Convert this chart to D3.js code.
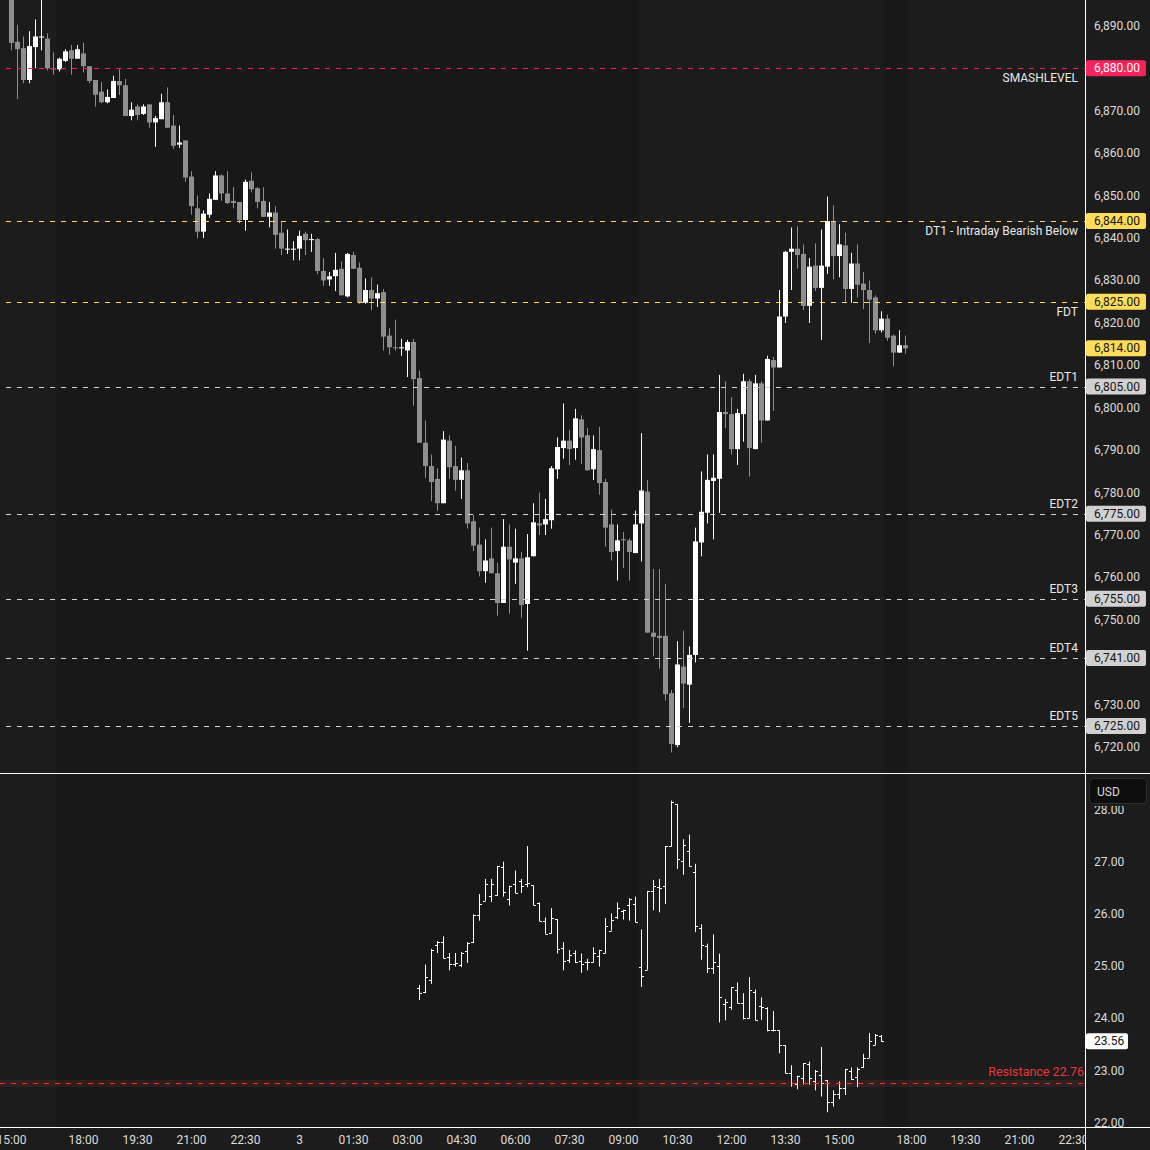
<!DOCTYPE html>
<html>
<head>
<meta charset="utf-8">
<script src="https://cdn.jsdelivr.net/npm/d3@7"></script>
<style>
  body { margin: 0; background: #1c1c1c; }
  svg text { font-family: Roboto, "Liberation Sans", sans-serif; }
</style>
</head>
<body>
<svg id="chart" width="1150" height="1150"></svg>
<script>
// ES 10-minute bars, slot 0 = 15:00 on day 1
const esOpen = [6897,6886.25,6884.75,6877.25,6885,6887.25,6887,6880,6879.75,6881.75,6884.25,6882.25,6883.5,6880.5,6877.25,6874.5,6872,6873,6877,6876,6868.75,6871,6869.25,6871.5,6867.25,6868,6872,6866.5,6862,6863,6854.5,6847,6841.5,6845.5,6849,6854.75,6850.5,6848.75,6848.5,6844.25,6853.5,6851.75,6848.75,6845,6846,6841.25,6837.25,6837.25,6837.5,6841,6839.5,6839.75,6832.25,6830.25,6831,6832.75,6826.25,6836,6833,6824.75,6827.75,6825.75,6827.25,6817,6814.25,6814,6813.5,6815.5,6807,6791.75,6786.25,6783.25,6777.5,6792.25,6786.25,6783,6785.25,6773.25,6767.75,6761.5,6764.5,6761,6754,6767.25,6763.5,6764.5,6753.75,6765,6772.75,6772.5,6773.5,6785.5,6790.5,6792.25,6790.5,6797.25,6793.5,6785.5,6790,6782.5,6772.5,6766.25,6769,6768.75,6765.75,6772.75,6780.25,6747,6746.25,6746.25,6732.75,6720.5,6739,6734.75,6741.75,6768.25,6775.25,6782.75,6783.25,6799,6798.5,6790.25,6798.5,6806.25,6790.25,6805.75,6797,6811.25,6809.5,6821.5,6836.75,6837.5,6836.25,6824,6833.5,6828.25,6833.25,6844,6835.75,6838.25,6828,6834,6829.25,6827.75,6826,6818.25,6821,6817,6813,6814.75];
const esHigh = [6899,6890.25,6887.5,6888.75,6891.5,6897,6888.25,6883.75,6882.5,6884.5,6885.5,6885.5,6886,6880.5,6877.25,6876.75,6875,6878.25,6879.75,6877.5,6872,6871.5,6871.5,6871.5,6868.75,6874,6875.5,6869,6866.5,6863,6855.75,6850,6846.5,6850.5,6855.75,6855,6855.75,6852,6848.5,6853.75,6855.5,6852,6852,6848.5,6847.5,6844,6842,6839.25,6841.75,6841.5,6841,6840,6835.25,6832,6836.5,6834.5,6836.5,6836.75,6834.25,6830.5,6830.75,6829,6828,6818.75,6820.75,6816.25,6816,6816.25,6808.75,6797,6789,6785.75,6794.5,6793.5,6791,6788.25,6787,6774.75,6771.75,6769,6771.75,6763.5,6773.75,6772.5,6771.5,6766,6770.25,6777.5,6780,6778.5,6786.25,6793,6801,6794.75,6799.75,6798.25,6795.25,6793.5,6795.5,6783.25,6776,6772.5,6770.75,6769.25,6775.75,6794,6783,6762,6762,6758.5,6733.5,6745,6747.5,6743.75,6771.75,6785,6789,6789,6807.75,6806.25,6802.5,6799.75,6808,6806.75,6807.75,6806.25,6812.25,6812,6827.75,6837,6842.5,6842.75,6838.5,6835.25,6838.75,6842,6849.75,6847.75,6843.25,6841.25,6836.5,6838.5,6832,6830,6826.5,6822.75,6822,6817.25,6818.25,6817];
const esLow = [6884.25,6872.75,6876.5,6876.5,6880,6884.25,6879.5,6878.5,6879.25,6881.5,6878.5,6882.25,6879,6876.5,6871,6871.75,6871.75,6873,6873.75,6868.75,6867.75,6867.75,6869,6866,6861.5,6868,6866,6861,6861.25,6853.25,6845.5,6840,6840,6844.75,6849,6848.75,6848,6847,6843.5,6841.75,6850.75,6847,6845,6842.5,6837.5,6836,6836.25,6834.75,6834.75,6836,6836.75,6831.5,6828.75,6828.75,6827.5,6826.5,6826,6832.75,6824.5,6824.5,6823,6823.75,6813.5,6812.5,6813.5,6812.25,6807.25,6800.5,6791.75,6783.5,6778,6775.75,6777.5,6783.25,6780.5,6778.5,6771.5,6766.25,6760.25,6758.75,6761,6751,6754,6751.5,6758.5,6750.5,6742.75,6765,6770,6770,6771.5,6783.25,6788,6786.5,6787.75,6786.75,6785.25,6783,6779.5,6767.25,6764,6759.25,6762.25,6759.25,6765.75,6763.75,6747,6741.5,6738.5,6731,6718.75,6720,6729.25,6725.75,6740,6765,6772.75,6769,6775.25,6795.25,6789,6786.5,6792,6783.75,6790.25,6791.75,6797,6799.25,6809.5,6820,6827.75,6832.75,6823,6820,6827.5,6816,6831.5,6830.25,6830.75,6825,6824.75,6826,6823.25,6815.25,6817.5,6817.75,6815.75,6809.75,6813,6812.75];
const esClose = [6886,6884.5,6877.25,6885.25,6887.5,6887.5,6880,6879.75,6882.25,6884,6882.25,6884.5,6880.5,6877,6873.75,6872,6873.25,6877,6876,6868.75,6870.25,6869,6871,6867.25,6868.25,6872,6866,6861.75,6862.5,6854.25,6847.5,6841.5,6845.75,6849.25,6854.75,6850.5,6848.25,6848.25,6844.25,6853.25,6851.5,6848.5,6845,6846,6840.75,6837.5,6837.5,6837.5,6840.5,6839.5,6839.75,6832.25,6830,6831,6832.5,6826.5,6836.25,6832.75,6824.75,6827.75,6825.75,6827,6816.75,6814.25,6814,6814.25,6815.5,6806.75,6791.75,6786.25,6782.5,6777.5,6792.5,6786,6783,6785.25,6772.75,6767.5,6761.5,6764,6761,6754,6767.25,6764.25,6764.5,6753.5,6764.75,6773,6772.25,6773.75,6785.75,6790.75,6792.25,6790.25,6797.5,6793,6785.25,6790.25,6782.25,6771.75,6766,6768.75,6768.75,6766,6772.5,6780.5,6747,6746,6745.75,6732.5,6720.75,6739.5,6735,6741.75,6768.5,6775.5,6783,6783.5,6799,6798.5,6790.25,6798.75,6806.25,6790.5,6805.75,6797,6811.5,6809.5,6821.5,6836.75,6837.5,6836,6824,6833.25,6828.25,6833.5,6844,6835.75,6838.5,6828,6834,6829,6827.75,6825.5,6818.25,6821,6816.5,6813,6814.75,6814];

// VIX 10-minute bars, starting at slot 68
const vixStart = 68;
const vixOpen = [24.58,24.50,24.74,25.41,25.46,25.18,25.04,25.02,25.28,25.46,25.98,26.25,26.35,26.37,26.90,26.29,26.57,26.63,26.58,26.55,26.20,25.86,25.63,25.90,25.34,25.12,25.25,25.09,25.07,25.07,25.20,25.25,25.68,25.95,26.05,26.17,26.19,24.98,24.93,26.44,26.51,26.54,27.30,28.10,27.02,27.21,26.80,25.73,25.39,24.96,25.01,24.28,24.21,24.55,24.29,24.00,24.50,24.24,24.20,23.77,23.77,23.48,22.95,22.75,22.86,23.13,22.79,22.92,22.82,22.39,22.55,22.66,23.00,22.87,23.06,23.24,23.49,23.67];
const vixHigh = [24.64,25.03,25.33,25.48,25.57,25.25,25.25,25.27,25.46,25.99,26.38,26.67,26.67,26.92,27.00,26.54,26.83,26.67,27.30,26.55,26.22,25.93,26.11,25.90,25.46,25.31,25.30,25.24,25.14,25.36,25.31,25.92,26.01,26.22,26.08,26.30,26.33,25.70,26.44,26.65,26.67,27.30,28.17,28.10,27.43,27.52,26.96,25.80,25.43,25.61,25.24,24.37,24.60,24.69,24.48,24.79,24.55,24.40,24.21,24.14,23.77,23.48,23.10,22.90,23.14,23.17,23.01,23.45,22.82,22.62,22.79,23.03,23.06,23.06,23.32,23.72,23.70,23.68];
const vixLow = [24.35,24.48,24.66,25.25,25.15,24.92,24.99,24.98,25.06,25.44,25.87,26.25,26.23,26.35,26.33,26.16,26.40,26.40,26.51,26.17,25.86,25.62,25.62,25.24,24.92,25.06,25.06,24.87,24.92,25.07,24.99,25.25,25.68,25.90,25.89,25.87,25.84,24.60,24.93,26.07,26.03,26.19,27.29,26.86,26.75,26.91,25.65,25.12,24.87,24.85,23.92,23.96,24.16,24.29,23.98,24.00,23.96,23.97,23.75,23.75,23.33,22.95,22.69,22.64,22.73,22.73,22.62,22.50,22.20,22.31,22.45,22.53,22.82,22.68,23.05,23.24,23.49,23.55];
const vixClose = [24.48,24.79,25.31,25.47,25.15,25.04,25.06,25.26,25.45,25.98,26.19,26.57,26.57,26.91,26.42,26.53,26.40,26.54,26.60,26.17,25.86,25.62,25.92,25.33,25.09,25.22,25.07,25.04,25.08,25.26,25.30,25.76,25.89,26.11,26.07,26.28,25.84,24.81,26.43,26.53,26.49,27.30,28.15,27.05,27.32,26.92,25.76,25.40,24.96,25.07,24.41,24.32,24.60,24.29,24.00,24.55,23.97,24.21,23.77,23.77,23.48,22.95,22.76,22.89,23.14,22.85,23.00,22.76,22.39,22.55,22.66,23.03,22.84,23.03,23.24,23.56,23.68,23.56];

// horizontal levels on the ES pane
const levelPrices = [6880, 6844, 6825, 6805, 6775, 6755, 6741, 6725];
const levelNames = ["SMASHLEVEL", "DT1 - Intraday Bearish Below", "FDT", "EDT1", "EDT2", "EDT3", "EDT4", "EDT5"];
const levelKinds = ["smash", "dt", "dt", "edt", "edt", "edt", "edt", "edt"];

// VIX pane level
const vixLevelName = "Resistance";
const vixLevel = 22.76;

const priceTicks = d3.range(6720, 6891, 10);
const vixTicks = [22, 23, 24, 25, 26, 27, 28];

// time axis: slot index of each label
const timeTickSlots = [0, 12, 21, 30, 39, 48, 57, 66, 75, 84, 93, 102, 111, 120, 129, 138, 150, 159, 168, 177];
const timeTickLabels = ["15:00", "18:00", "19:30", "21:00", "22:30", "3", "01:30", "03:00", "04:30", "06:00", "07:30", "09:00", "10:30", "12:00", "13:30", "15:00", "18:00", "19:30", "21:00", "22:30"];

// extended-hours shading, in slot units
const ethFrom = [7.5, 145.5];
const ethTo = [104.5, 149.5];

const axisX = 1085.5, sepY = 773.5, baseY = 1127.5;
const kindColor = { smash: "#f7245c", dt: "#fcdc5a", edt: "#d4d4d4" };
const fmtPrice = d3.format(",.2f"), fmtVix = d3.format(".2f");

const x = d3.scaleLinear().domain([0, 1]).range([11.5, 17.5]);
const y = d3.scaleLinear().domain([6725, 6880]).range([726, 68.3]);
const yv = d3.scaleLinear().domain([22, 27]).range([1122.7, 861.7]);

const svg = d3.select("#chart");
const defs = svg.append("defs");
defs.append("clipPath").attr("id", "clip-top")
  .append("rect").attr("width", axisX - 0.5).attr("height", sepY - 0.5);
defs.append("clipPath").attr("id", "clip-bot")
  .append("rect").attr("y", sepY + 0.5).attr("width", axisX - 0.5).attr("height", baseY - sepY - 1);
defs.append("clipPath").attr("id", "clip-xaxis")
  .append("rect").attr("y", baseY).attr("width", axisX - 0.5).attr("height", 30);
defs.append("clipPath").attr("id", "clip-vixaxis")
  .append("rect").attr("x", axisX).attr("y", 806).attr("width", 80).attr("height", 330);

svg.append("rect").attr("width", 1150).attr("height", 1150).attr("fill", "#1c1c1c");

// session shading
svg.append("g").selectAll("rect")
  .data(d3.range(ethFrom.length))
  .join("rect")
    .attr("x", i => x(ethFrom[i]))
    .attr("width", i => x(ethTo[i]) - x(ethFrom[i]))
    .attr("y", 0)
    .attr("height", baseY)
    .attr("fill", "#181818");

// ES candles
const topPane = svg.append("g").attr("clip-path", "url(#clip-top)");
const bars = d3.range(esOpen.length);
const candleColor = i => esClose[i] >= esOpen[i] ? "#ffffff" : "#8f8f8f";

topPane.append("g").selectAll("rect")
  .data(bars)
  .join("rect")
    .attr("x", i => x(i) - 0.5)
    .attr("width", 1)
    .attr("y", i => y(esHigh[i]))
    .attr("height", i => y(esLow[i]) - y(esHigh[i]))
    .attr("fill", candleColor);

topPane.append("g").selectAll("rect")
  .data(bars)
  .join("rect")
    .attr("x", i => x(i) - 2.5)
    .attr("width", 5)
    .attr("y", i => y(Math.max(esOpen[i], esClose[i])))
    .attr("height", i => Math.max(1, Math.abs(y(esOpen[i]) - y(esClose[i]))))
    .attr("fill", candleColor);

// level lines + labels
const lv = d3.range(levelPrices.length);
topPane.append("g").selectAll("line")
  .data(lv)
  .join("line")
    .attr("x1", 6).attr("x2", axisX)
    .attr("y1", i => Math.round(y(levelPrices[i])) + 0.5)
    .attr("y2", i => Math.round(y(levelPrices[i])) + 0.5)
    .attr("stroke", i => kindColor[levelKinds[i]])
    .attr("stroke-width", 1)
    .attr("stroke-dasharray", "5,6");

topPane.append("g").selectAll("text")
  .data(lv)
  .join("text")
    .attr("x", 1078)
    .attr("y", i => y(levelPrices[i]) + (levelKinds[i] === "edt" ? -10 : 10))
    .attr("text-anchor", "end")
    .attr("dominant-baseline", "central")
    .attr("font-size", 12)
    .attr("fill", "#e8e8e8")
    .text(i => levelNames[i]);

// VIX OHLC bars
const botPane = svg.append("g").attr("clip-path", "url(#clip-bot)");
const vb = d3.range(vixOpen.length);
const vg = botPane.append("g").attr("stroke", "#ffffff").attr("stroke-width", 1);
vg.selectAll("line.hl")
  .data(vb)
  .join("line").attr("class", "hl")
    .attr("x1", i => x(vixStart + i)).attr("x2", i => x(vixStart + i))
    .attr("y1", i => yv(vixHigh[i])).attr("y2", i => yv(vixLow[i]));
vg.selectAll("line.op")
  .data(vb)
  .join("line").attr("class", "op")
    .attr("x1", i => x(vixStart + i) - 2.5).attr("x2", i => x(vixStart + i))
    .attr("y1", i => Math.round(yv(vixOpen[i])) + 0.5).attr("y2", i => Math.round(yv(vixOpen[i])) + 0.5);
vg.selectAll("line.cl")
  .data(vb)
  .join("line").attr("class", "cl")
    .attr("x1", i => x(vixStart + i)).attr("x2", i => x(vixStart + i) + 2.5)
    .attr("y1", i => Math.round(yv(vixClose[i])) + 0.5).attr("y2", i => Math.round(yv(vixClose[i])) + 0.5);

// resistance level
const ry = Math.round(yv(vixLevel)) + 0.5;
botPane.append("rect").attr("x", 0).attr("width", axisX).attr("y", ry - 3.5).attr("height", 7)
  .attr("fill", "#e03a3a").attr("fill-opacity", 0.13);
botPane.append("line").attr("x1", 0).attr("x2", axisX).attr("y1", ry).attr("y2", ry)
  .attr("stroke", "#e03a3a").attr("stroke-dasharray", "5,6");
botPane.append("text")
  .attr("x", 1084).attr("y", ry - 12)
  .attr("text-anchor", "end").attr("dominant-baseline", "central")
  .attr("font-size", 12.5).attr("fill", "#e8393a")
  .text(`${vixLevelName} ${fmtVix(vixLevel)}`);

// frame lines
svg.append("line").attr("x1", axisX).attr("x2", axisX).attr("y1", 0).attr("y2", 1150).attr("stroke", "#ffffff");
svg.append("line").attr("x1", 0).attr("x2", 1150).attr("y1", sepY).attr("y2", sepY).attr("stroke", "#ffffff");
svg.append("line").attr("x1", 0).attr("x2", 1150).attr("y1", baseY).attr("y2", baseY).attr("stroke", "#ffffff");

// price axis: badges for levels and last price, ticks hidden where a badge sits
const badgePrices = levelPrices.concat([esClose[esClose.length - 1]]);
const badgeKinds = levelKinds.concat(["dt"]);
const freeTicks = priceTicks.filter(t => badgePrices.every(b => Math.abs(y(t) - y(b)) > 10));

const pa = svg.append("g").attr("font-size", 12);
pa.selectAll("text")
  .data(freeTicks)
  .join("text")
    .attr("x", 1094).attr("y", d => y(d))
    .attr("dominant-baseline", "central")
    .attr("fill", "#dcdcdc")
    .text(d => fmtPrice(d));

const badges = pa.append("g").selectAll("g")
  .data(d3.range(badgePrices.length))
  .join("g");
badges.append("rect")
  .attr("x", 1086).attr("width", 60)
  .attr("y", i => y(badgePrices[i]) - 8).attr("height", 16)
  .attr("rx", 2)
  .attr("fill", i => badgeKinds[i] === "edt" ? "#d1d1d1" : kindColor[badgeKinds[i]]);
badges.append("text")
  .attr("x", 1094).attr("y", i => y(badgePrices[i]))
  .attr("dominant-baseline", "central")
  .attr("fill", i => badgeKinds[i] === "smash" ? "#ffffff" : "#141414")
  .text(i => fmtPrice(badgePrices[i]));

// vix axis
const va = svg.append("g").attr("font-size", 12);
va.append("g").attr("clip-path", "url(#clip-vixaxis)").selectAll("text")
  .data(vixTicks)
  .join("text")
    .attr("x", 1094).attr("y", d => yv(d))
    .attr("dominant-baseline", "central")
    .attr("fill", "#dcdcdc")
    .text(d => fmtVix(d));

const lastVix = vixClose[vixClose.length - 1];
va.append("rect").attr("x", 1086).attr("width", 42)
  .attr("y", yv(lastVix) - 8).attr("height", 16).attr("rx", 2).attr("fill", "#ffffff");
va.append("text").attr("x", 1094).attr("y", yv(lastVix))
  .attr("dominant-baseline", "central").attr("fill", "#141414")
  .text(fmtVix(lastVix));

va.append("rect").attr("x", 1089.5).attr("y", 778.5).attr("width", 57).attr("height", 25)
  .attr("rx", 4).attr("fill", "#0e0e0e").attr("stroke", "#2e2e2e");
va.append("text").attr("x", 1097).attr("y", 791.5)
  .attr("dominant-baseline", "central").attr("fill", "#d8d8d8").text("USD");

// time axis
svg.append("g").attr("clip-path", "url(#clip-xaxis)").attr("font-size", 12)
  .selectAll("text")
  .data(d3.range(timeTickSlots.length))
  .join("text")
    .attr("x", i => x(timeTickSlots[i]))
    .attr("y", 1140)
    .attr("text-anchor", "middle")
    .attr("dominant-baseline", "central")
    .attr("fill", "#dcdcdc")
    .text(i => timeTickLabels[i]);
</script>
</body>
</html>
